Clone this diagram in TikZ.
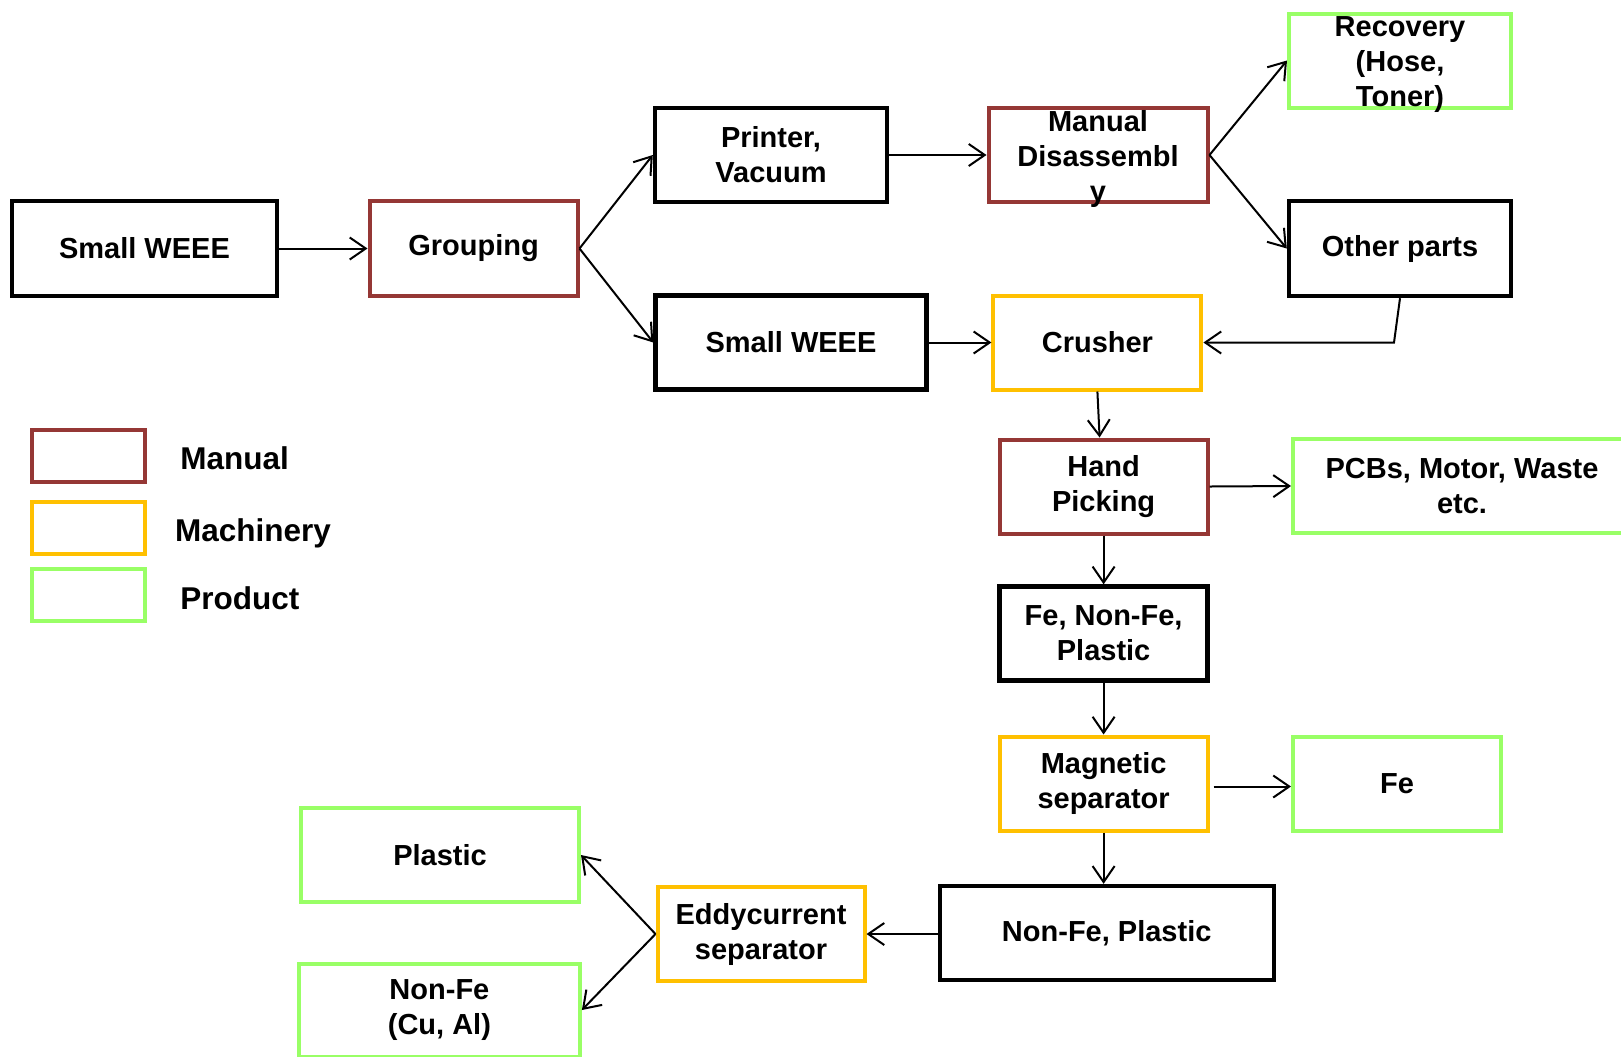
\documentclass[tikz,border=0pt]{standalone}
\usepackage{fontspec}
\setmainfont{Liberation Sans}
\usetikzlibrary{arrows.meta}

\definecolor{manualred}{HTML}{953735}
\definecolor{machorange}{HTML}{FFC000}
\definecolor{prodgreen}{HTML}{99FF66}

\newcommand{\boxfont}{\fontsize{14.5}{17.5}\selectfont\bfseries}

\tikzset{
  box/.style={draw, line width=2.2pt, minimum width=104pt, minimum height=47pt,
    inner sep=0pt, align=center, font=\boxfont},
  manual/.style={box, draw=manualred, line width=2pt},
  machine/.style={box, draw=machorange, line width=2pt},
  product/.style={box, draw=prodgreen, line width=2pt},
  boxtext/.style={align=center, font=\boxfont, inner sep=0pt, yshift=-2pt},
  keybox/.style={draw, line width=2pt, minimum width=56.5pt, minimum height=26pt, inner sep=0pt},
  keytext/.style={anchor=west, inner sep=0pt, font=\fontsize{15.75}{19}\selectfont\bfseries},
  flow/.style={line width=1pt, -{Straight Barb[length=8pt,width=11pt]}}
}

\begin{document}
\begin{tikzpicture}[x=0.5pt, y=-0.5pt]
    \useasboundingbox (0,0) rectangle (1621,1056);

    % Boxes
    \node[box, minimum width=132.5pt, minimum height=47.5pt] (sw1) at (144.5,248.5) {Small WEEE};
    \node[manual, minimum height=47.5pt] (grp) at (473.5,248.5) {Grouping};
    \node[box, minimum width=116pt] (prn) at (771,155) {Printer,\\Vacuum};
    \node[box, minimum width=135.5pt] (sw2) at (791,342.5) {Small WEEE};
    \node[manual, minimum width=109.5pt,
      label={[boxtext]center:Manual\\Disassembl\\y}] (man) at (1098,155) {};
    \node[product, minimum width=111pt,
      label={[boxtext]center:Recovery\\(Hose,\\Toner)}] (rec) at (1400,60.5) {};
    \node[box, minimum width=111pt, minimum height=47.5pt] (oth) at (1400,248.5) {Other parts};
    \node[machine] (cru) at (1097.4,342.5) {Crusher};
    \node[manual] (hnd) at (1103.6,486.5) {Hand\\Picking};
    \node[product, minimum width=169pt] (pcb) at (1462,486) {PCBs, Motor, Waste\\etc.};
    \node[box] (fnp) at (1103.6,633.5) {Fe, Non-Fe,\\Plastic};
    \node[machine] (mag) at (1103.6,783.5) {Magnetic\\separator};
    \node[product] (fe) at (1397,783.5) {Fe};
    \node[box, minimum width=167pt] (nfp) at (1106.7,933) {Non-Fe, Plastic};
    \node[machine, minimum width=103.5pt] (edd) at (761,934) {Eddycurrent\\separator};
    \node[product, minimum width=139pt] (pla) at (440,855) {Plastic};
    \node[product, minimum width=140.5pt, minimum height=46.5pt] (nfe) at (439.4,1010) {Non-Fe\\(Cu, Al)};

    % Arrows
    \draw[flow] (sw1.east) -- (grp.west);
    \draw[flow] (grp.east) -- (prn.west);
    \draw[flow] (grp.east) -- (sw2.west);
    \draw[flow] (prn.east) -- (man.west);
    \draw[flow] (man.east) -- (rec.west);
    \draw[flow] (man.east) -- (oth.west);
    \draw[flow] (sw2.east) -- (cru.west);
    \draw[flow] (oth.south) -- ([xshift=-3pt]oth.south |- cru.east) -- (cru.east);
    \draw[flow] (cru.south) -- ([xshift=-2pt]hnd.north);
    \draw[flow] (hnd.east) -- (pcb.west);
    \draw[flow] (hnd.south) -- (fnp.north);
    \draw[flow] (fnp.south) -- (mag.north);
    \draw[flow, shorten <=2pt] ([yshift=-1.5pt]mag.east) -- ([yshift=-1.5pt]fe.west);
    \draw[flow] (mag.south) -- (mag.south |- nfp.north);
    \draw[flow] (nfp.west |- edd.east) -- (edd.east);
    \draw[flow] (edd.west) -- (pla.east);
    \draw[flow] (edd.west) -- (nfe.east);

    % Legend
    \node[keybox, draw=manualred] (kman) at (88.4,456) {};
    \node[keybox, draw=machorange] (kmac) at (88.4,527.7) {};
    \node[keybox, draw=prodgreen] (kpro) at (88.4,594.5) {};
    \node[keytext] (tman) at (180,458) {Manual};
    \node[keytext] (tmac) at (174.7,533) {Machinery};
    \node[keytext] (tpro) at (180,598.5) {Product};
\end{tikzpicture}
\end{document}
